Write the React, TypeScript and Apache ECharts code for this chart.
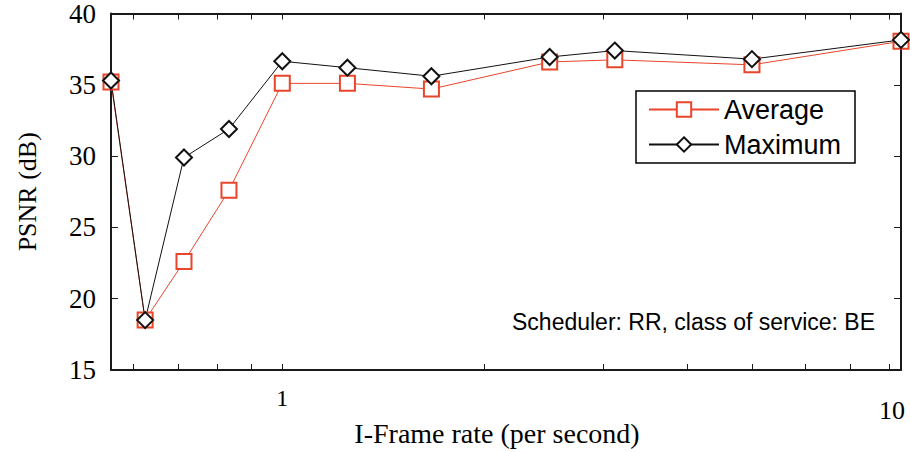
import React, { useEffect, useRef } from "react";
import * as echarts from "echarts";

// I-frame rate (per second)
const rates = [0.556, 0.625, 0.714, 0.833, 1.0, 1.25, 1.667, 2.5, 3.125, 5.0, 8.333];
const averagePSNR = [35.2, 18.5, 22.6, 27.6, 35.1, 35.1, 34.7, 36.6, 36.75, 36.4, 38.05];
const maximumPSNR = [35.3, 18.5, 29.9, 31.9, 36.65, 36.2, 35.6, 36.95, 37.4, 36.8, 38.15];
const xTickValues = [0.6, 0.7, 0.8, 0.9, 1, 2, 3, 4, 5, 6, 7, 8];
const xLabelValues = [1];
const seriesNames = ["Average", "Maximum"];
const note = "Scheduler: RR, class of service: BE";

const AXIS_COLOR = "#1a1a1a";
const RED = "#E8452A";
const BLACK = "#111111";

export default function App() {
  const ref = useRef<HTMLDivElement>(null);
  useEffect(() => {
    if (!ref.current) return;
    document.body.style.margin = "0";
    const chart = echarts.init(ref.current, undefined, { renderer: "svg" });
    const xMin = rates[0];
    const xMax = rates[rates.length - 1];
    const commonX = {
      type: "log" as const,
      logBase: 10,
      min: xMin,
      max: xMax,
      axisLine: { show: true, lineStyle: { color: AXIS_COLOR, width: 2 } },
      splitLine: { show: false },
      axisTick: {
        show: true,
        inside: true,
        length: 6,
        customValues: xTickValues,
        lineStyle: { color: AXIS_COLOR, width: 1 },
      },
    };
    const commonY = {
      type: "value" as const,
      min: 15,
      max: 40,
      interval: 5,
      axisLine: { show: true, lineStyle: { color: AXIS_COLOR, width: 2 } },
      splitLine: { show: false },
      axisTick: { show: true, inside: true, length: 7, lineStyle: { color: AXIS_COLOR, width: 1 } },
    };
    chart.setOption({
      animation: false,
      backgroundColor: "#ffffff",
      grid: { left: 111, right: 9, top: 12, bottom: 81, containLabel: false },
      legend: {
        data: seriesNames,
        orient: "vertical",
        right: 55,
        top: 91,
        padding: [5, 14, 5, 12],
        itemGap: 8,
        itemWidth: 70,
        itemHeight: 18,
        borderColor: "#000",
        borderWidth: 1.5,
        backgroundColor: "#fff",
        textStyle: { fontFamily: "Liberation Sans", fontSize: 27, color: "#000" },
      },
      xAxis: [
        {
          ...commonX,
          position: "bottom",
          name: "I-Frame rate (per second)",
          nameLocation: "middle",
          nameGap: 49,
          nameTextStyle: {
            fontFamily: "Liberation Serif",
            fontSize: 28,
            color: "#000",
            padding: [0, 18, 0, 0],
          },
          axisLabel: {
            show: true,
            customValues: xLabelValues,
            margin: 16,
            fontFamily: "Liberation Serif",
            fontSize: 24,
            color: "#000",
            formatter: (v: number) => String(Math.round(v)),
          },
        },
        {
          ...commonX,
          position: "top",
          axisLabel: { show: false },
        },
      ],
      yAxis: [
        {
          ...commonY,
          position: "left",
          name: "PSNR (dB)",
          nameLocation: "middle",
          nameGap: 71,
          nameTextStyle: { fontFamily: "Liberation Serif", fontSize: 26, color: "#000" },
          axisLabel: {
            show: true,
            margin: 15,
            fontFamily: "Liberation Serif",
            fontSize: 27,
            color: "#000",
          },
        },
        {
          ...commonY,
          position: "right",
          axisLabel: { show: false },
        },
      ],
      graphic: [
        {
          type: "text",
          left: 512,
          top: 310,
          style: { text: note, fontFamily: "Liberation Sans", fontSize: 23, fill: "#000" },
        },
        {
          type: "text",
          x: 892,
          y: 410,
          style: {
            text: "10",
            fontFamily: "Liberation Serif",
            fontSize: 26,
            fill: "#000",
            align: "center",
            verticalAlign: "middle",
          },
        },
      ],
      series: [
        {
          name: seriesNames[0],
          type: "line",
          xAxisIndex: 0,
          yAxisIndex: 0,
          data: rates.map((r, i) => [r, averagePSNR[i]]),
          symbol: "emptyRect",
          symbolSize: 15,
          clip: false,
          lineStyle: { color: RED, width: 1 },
          itemStyle: { color: RED, borderWidth: 1.2 },
        },
        {
          name: seriesNames[1],
          type: "line",
          xAxisIndex: 0,
          yAxisIndex: 0,
          data: rates.map((r, i) => [r, maximumPSNR[i]]),
          symbol: "emptyDiamond",
          symbolSize: 16,
          clip: false,
          lineStyle: { color: BLACK, width: 1 },
          itemStyle: { color: BLACK, borderWidth: 1.1 },
        },
      ],
    });
    return () => chart.dispose();
  }, []);
  return (
    <div
      ref={ref}
      style={{ position: "absolute", left: 0, top: 0, width: 910, height: 452 }}
    />
  );
}
